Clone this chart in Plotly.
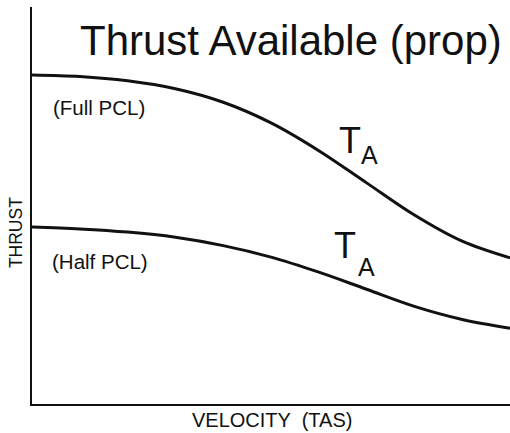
import plotly.graph_objects as go

# Velocity (TAS), arbitrary units 0-100
velocity = [0, 10, 20, 30, 40, 50, 60, 70, 80, 90, 100]
# Thrust available, arbitrary units 0-100
thrust_full_pcl = [82.9, 82.5, 81.4, 79.4, 76.0, 70.8, 63.8, 55.7, 47.6, 41.0, 36.8]
thrust_half_pcl = [44.6, 44.1, 43.3, 42.0, 39.9, 37.0, 33.2, 28.9, 24.6, 21.3, 19.1]

title_text = "Thrust Available (prop)"
x_title = "VELOCITY  (TAS)"
y_title = "THRUST"
curve_labels = ["(Full PCL)", "(Half PCL)"]

FONT = "Arial, 'Liberation Sans', Helvetica, sans-serif"
INK = "#111111"

fig = go.Figure()
for ys in (thrust_full_pcl, thrust_half_pcl):
    fig.add_trace(go.Scatter(
        x=velocity, y=ys, mode="lines",
        line=dict(color=INK, width=3, shape="spline", smoothing=1.0),
        showlegend=False, hoverinfo="skip", cliponaxis=False,
    ))

ann = []
ann.append(dict(x=54.2, y=91.5, text=title_text, font=dict(size=42, color=INK)))
ann.append(dict(x=14.0, y=74.6, text=curve_labels[0], font=dict(size=20.5, color=INK)))
ann.append(dict(x=14.2, y=36.0, text=curve_labels[1], font=dict(size=20.5, color=INK)))
# T_A labels: main letter and subscript
ann.append(dict(x=66.5, y=66.4, text="T", font=dict(size=36, color=INK)))
ann.append(dict(x=70.7, y=62.6, text="A", font=dict(size=25, color=INK)))
ann.append(dict(x=65.5, y=39.8, text="T", font=dict(size=36, color=INK)))
ann.append(dict(x=69.9, y=34.6, text="A", font=dict(size=25, color=INK)))
for a in ann:
    a.update(xref="x", yref="y", showarrow=False, xanchor="center", yanchor="middle",
             font=dict(family=FONT, **a["font"]))
# axis titles placed in paper coordinates (outside the plotting area)
ann.append(dict(xref="paper", yref="paper", x=0.502, y=-0.040, text=x_title,
                showarrow=False, xanchor="center", yanchor="middle",
                font=dict(family=FONT, size=20, color=INK)))
ann.append(dict(xref="paper", yref="paper", x=-0.033, y=0.431, text=y_title, textangle=-90,
                showarrow=False, xanchor="center", yanchor="middle",
                font=dict(family=FONT, size=17.5, color=INK)))

fig.update_layout(
    width=510, height=433,
    margin=dict(l=32, r=0, t=7, b=29),
    paper_bgcolor="white", plot_bgcolor="white",
    annotations=ann,
    xaxis=dict(range=[0, 100], showgrid=False, zeroline=False, showticklabels=False,
               ticks="", showline=True, linecolor=INK, linewidth=2),
    yaxis=dict(range=[0, 100], showgrid=False, zeroline=False, showticklabels=False,
               ticks="", showline=True, linecolor=INK, linewidth=2),
)

fig.write_html("out.html")
